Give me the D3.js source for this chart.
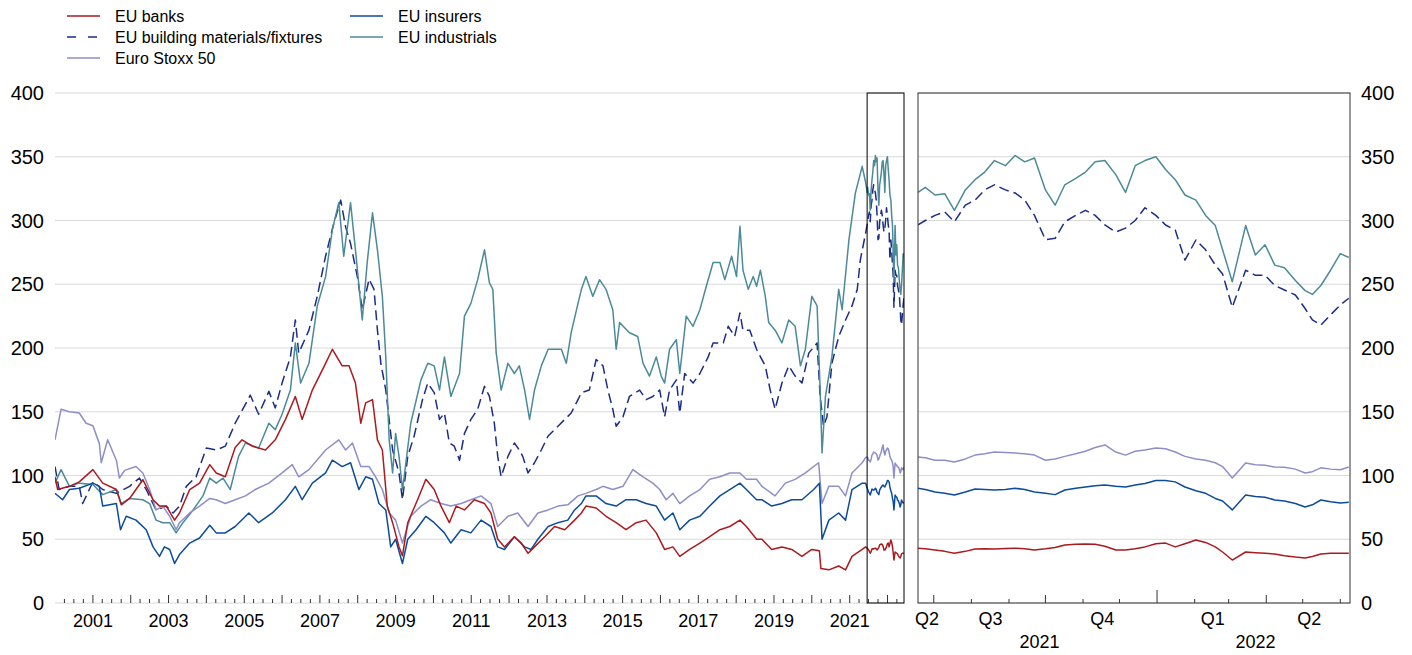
<!DOCTYPE html>
<html>
<head>
<meta charset="utf-8">
<script src="https://cdnjs.cloudflare.com/ajax/libs/d3/7.8.5/d3.min.js"></script>
<style>
  body { margin: 0; background: #fff; }
  text { font-family: "Liberation Sans", Arial, sans-serif; fill: #000; }
</style>
</head>
<body>
<script>
// ---- data: long history (decimal year, index level) ----
var banksHist = [[2000.00,99],[2000.07,89],[2000.38,91.5],[2000.64,95],[2001.00,104.6],[2001.26,94],[2001.62,89],[2001.75,77],[2001.97,82],[2002.32,96.7],[2002.59,81],[2002.76,76],[2002.94,76],[2003.16,65],[2003.29,70.6],[2003.56,89],[2003.82,94],[2004.09,108.5],[2004.26,102],[2004.50,99],[2004.76,122],[2004.94,128],[2005.21,123],[2005.56,120],[2005.82,128],[2006.09,144],[2006.35,162],[2006.53,144],[2006.80,167],[2007.15,188],[2007.33,199],[2007.59,186],[2007.77,186],[2007.94,172.5],[2008.08,141],[2008.21,157],[2008.39,159.5],[2008.52,128],[2008.65,120],[2008.78,76],[2008.92,63],[2009.09,44],[2009.18,37],[2009.32,63],[2009.58,81],[2009.80,97],[2010.02,89],[2010.20,76],[2010.42,63],[2010.60,76],[2010.82,73],[2011.08,81],[2011.35,78],[2011.52,70.6],[2011.70,50],[2011.88,44],[2012.14,52],[2012.32,47],[2012.50,39],[2012.67,44],[2012.94,52],[2013.20,60],[2013.47,57.5],[2013.73,65],[2013.91,70.6],[2014.03,76],[2014.30,74.5],[2014.56,68],[2014.83,63],[2015.09,57.5],[2015.36,63],[2015.62,65],[2015.89,55],[2016.11,42],[2016.33,44],[2016.51,36.6],[2016.77,42],[2017.04,47],[2017.30,52],[2017.57,57.5],[2017.83,60],[2018.10,65],[2018.27,60],[2018.54,50],[2018.68,50],[2018.94,42],[2019.21,44],[2019.47,42],[2019.74,36.6],[2020.00,42],[2020.20,41],[2020.24,27],[2020.45,26],[2020.71,29],[2020.89,26],[2021.06,36.6],[2021.33,42],[2021.42,44]];

var insurersHist = [[2000.00,86],[2000.20,81],[2000.38,89],[2000.64,90],[2001.00,94],[2001.17,91.5],[2001.26,76],[2001.62,78],[2001.73,57.5],[2001.88,68],[2002.14,65],[2002.41,57.5],[2002.59,44],[2002.76,36.6],[2002.89,44],[2003.03,42],[2003.16,31],[2003.29,38],[2003.56,47],[2003.82,51],[2004.09,61],[2004.26,55],[2004.50,55],[2004.76,60],[2005.12,70.6],[2005.38,63],[2005.74,70.6],[2006.09,81],[2006.35,91.5],[2006.53,81],[2006.80,94],[2007.15,102],[2007.33,112],[2007.59,107],[2007.81,110],[2008.03,89],[2008.21,99],[2008.39,97],[2008.56,78],[2008.74,73],[2008.87,44],[2009.00,50],[2009.18,31],[2009.32,50],[2009.54,57.5],[2009.80,68],[2010.02,63],[2010.29,55],[2010.46,47],[2010.73,57.5],[2010.99,55],[2011.26,65],[2011.52,60],[2011.70,44],[2011.88,42],[2012.14,52],[2012.41,44],[2012.58,42],[2012.76,50],[2013.03,60],[2013.29,63],[2013.55,65],[2013.73,73],[2013.91,78],[2014.03,84],[2014.30,84],[2014.56,78],[2014.83,76],[2015.09,81],[2015.36,81],[2015.62,78],[2015.89,76],[2016.11,65],[2016.33,70.6],[2016.51,57.5],[2016.77,65],[2017.04,68],[2017.30,76],[2017.57,84],[2017.83,89],[2018.10,94],[2018.27,89],[2018.54,81],[2018.68,81],[2018.94,76],[2019.21,78],[2019.47,81],[2019.74,81],[2020.05,89],[2020.20,94],[2020.27,50],[2020.45,65],[2020.71,70.6],[2020.89,65],[2021.06,89],[2021.33,94],[2021.42,94]];

var stoxxHist = [[2000.00,128],[2000.16,152],[2000.38,150],[2000.64,149],[2000.82,141],[2001.00,139],[2001.17,125],[2001.22,110],[2001.39,128],[2001.62,112],[2001.70,98],[2001.84,104],[2002.14,107],[2002.32,102],[2002.50,89],[2002.67,73],[2002.85,76],[2003.03,68],[2003.20,57.5],[2003.29,63],[2003.56,70.6],[2003.82,76],[2004.09,82],[2004.26,81],[2004.50,78],[2004.76,81],[2005.03,84],[2005.29,89],[2005.65,94],[2006.00,102],[2006.27,108.5],[2006.44,99],[2006.71,104.6],[2007.15,120],[2007.50,128],[2007.68,120],[2007.86,125.5],[2008.08,107],[2008.30,107],[2008.47,99],[2008.65,89],[2008.83,70.6],[2009.00,65],[2009.18,47],[2009.40,68],[2009.67,76],[2009.93,81],[2010.20,78],[2010.46,76],[2010.73,78],[2010.99,81],[2011.26,84],[2011.52,78],[2011.70,60],[2011.97,68],[2012.23,70.6],[2012.50,60],[2012.76,70.6],[2013.03,73],[2013.29,76],[2013.55,77],[2013.82,84],[2014.03,86],[2014.30,89],[2014.48,91.5],[2014.74,89],[2015.01,91.5],[2015.27,104.6],[2015.54,99],[2015.80,94],[2015.98,89],[2016.15,81],[2016.33,86],[2016.51,78],[2016.77,84],[2017.04,89],[2017.30,97],[2017.57,99],[2017.83,102],[2018.10,102],[2018.27,97],[2018.54,97],[2018.68,91.5],[2019.03,84],[2019.30,94],[2019.56,97],[2019.83,102],[2020.18,110],[2020.27,78],[2020.45,91.5],[2020.71,91.5],[2020.89,84],[2021.06,102],[2021.33,110],[2021.42,114]];

var buildingHist = [[2000.00,107],[2000.11,89],[2000.38,91.5],[2000.64,91.5],[2000.73,78],[2001.00,95],[2001.26,89],[2001.62,86],[2001.97,91.5],[2002.23,98],[2002.41,89],[2002.67,73],[2002.94,76],[2003.12,70.6],[2003.29,76],[2003.47,91.5],[2003.73,99],[2004.00,121.6],[2004.26,120],[2004.50,123],[2004.76,141],[2005.16,163],[2005.38,148],[2005.65,166],[2005.82,153],[2006.00,172.5],[2006.22,193],[2006.35,222],[2006.44,196],[2006.71,214],[2006.93,240.5],[2007.15,272],[2007.37,298],[2007.55,316],[2007.68,295],[2007.81,282],[2007.99,256],[2008.12,230],[2008.30,254],[2008.43,246],[2008.52,214],[2008.61,188],[2008.74,167],[2008.92,120],[2009.09,102],[2009.18,81],[2009.32,115],[2009.49,131],[2009.71,159.5],[2009.85,172.5],[2010.02,165],[2010.16,144],[2010.29,149],[2010.42,125.5],[2010.55,123],[2010.69,112],[2010.82,133],[2010.99,144],[2011.17,152],[2011.35,170],[2011.48,162],[2011.61,141],[2011.70,115],[2011.79,99],[2011.97,115],[2012.14,125.5],[2012.27,120],[2012.36,115],[2012.50,102],[2012.67,110],[2012.85,120],[2013.03,131],[2013.29,138.6],[2013.47,144],[2013.64,149],[2013.82,159.5],[2013.91,165],[2014.12,167],[2014.30,191],[2014.48,186],[2014.61,167],[2014.74,152],[2014.83,138.6],[2015.01,146],[2015.18,162],[2015.45,167],[2015.62,159.5],[2015.80,162],[2015.98,167],[2016.11,146],[2016.24,167],[2016.42,175],[2016.51,149],[2016.64,180],[2016.86,172.5],[2017.04,180],[2017.26,193],[2017.39,204],[2017.66,204],[2017.79,217],[2017.96,209],[2018.10,227.5],[2018.18,214],[2018.36,214],[2018.54,199],[2018.59,196],[2018.77,186],[2018.90,167],[2019.03,152],[2019.21,172.5],[2019.39,186],[2019.56,178],[2019.74,172.5],[2019.92,196],[2020.14,204],[2020.22,162],[2020.31,138.6],[2020.40,146],[2020.53,188],[2020.71,209],[2020.89,222],[2021.06,233],[2021.20,246],[2021.28,269],[2021.42,290]];

var industrialsHist = [[2000.00,94],[2000.16,104.6],[2000.38,91.5],[2000.64,94],[2001.00,93],[2001.26,85],[2001.62,89],[2001.75,78],[2001.97,82],[2002.32,81],[2002.50,78],[2002.67,65],[2002.85,63],[2003.03,63],[2003.20,55],[2003.38,63],[2003.65,73],[2003.91,84],[2004.09,98],[2004.26,94],[2004.44,98],[2004.63,89],[2004.85,115],[2005.03,125.5],[2005.38,121.6],[2005.65,141],[2005.82,136],[2006.00,148],[2006.22,167],[2006.35,204],[2006.49,172.5],[2006.71,188],[2006.93,233],[2007.15,256],[2007.33,293],[2007.50,314],[2007.63,272],[2007.81,314],[2007.94,277],[2008.12,222],[2008.25,267],[2008.39,306],[2008.52,277],[2008.65,240.5],[2008.74,193],[2008.83,128],[2008.92,102],[2009.00,133],[2009.09,115],[2009.18,89],[2009.23,100],[2009.40,141],[2009.67,175],[2009.85,188],[2010.02,186],[2010.16,167],[2010.29,193],[2010.46,162],[2010.69,180],[2010.82,225],[2010.99,235],[2011.17,253.6],[2011.35,277],[2011.48,251],[2011.57,246],[2011.66,196],[2011.79,167],[2011.97,188],[2012.14,180],[2012.27,186],[2012.41,167],[2012.54,144],[2012.67,167],[2012.85,186],[2013.03,199],[2013.20,199],[2013.38,199],[2013.51,188],[2013.64,212],[2013.82,235],[2013.91,246],[2014.03,256],[2014.21,240.5],[2014.39,253.6],[2014.56,246],[2014.74,230],[2014.83,199],[2014.92,220],[2015.18,212],[2015.40,209],[2015.54,188],[2015.71,178],[2015.89,193],[2016.02,178],[2016.11,172.5],[2016.24,199],[2016.42,206.5],[2016.51,180],[2016.68,225],[2016.86,217],[2017.04,230],[2017.21,248.4],[2017.39,267],[2017.57,267],[2017.70,253.6],[2017.88,272],[2018.01,256],[2018.10,295.4],[2018.18,261],[2018.32,246],[2018.45,256],[2018.54,248.4],[2018.64,261],[2018.77,240.5],[2018.86,220],[2019.03,214],[2019.21,204],[2019.39,222],[2019.56,217],[2019.70,186],[2019.83,199],[2020.00,240.5],[2020.14,233],[2020.22,167],[2020.27,117.6],[2020.36,162],[2020.53,193],[2020.71,246],[2020.80,230],[2020.98,285],[2021.15,321.6],[2021.33,342.5],[2021.42,330]];

// ---- data: recent period (zoomed panel) ----
var recentDates = ["2021-06-18","2021-06-24","2021-07-02","2021-07-10","2021-07-18","2021-07-27","2021-08-04","2021-08-12","2021-08-20","2021-08-29","2021-09-06","2021-09-14","2021-09-22","2021-10-01","2021-10-09","2021-10-17","2021-10-26","2021-11-03","2021-11-11","2021-11-19","2021-11-28","2021-12-06","2021-12-14","2021-12-22","2021-12-31","2022-01-08","2022-01-16","2022-01-24","2022-02-02","2022-02-10","2022-02-18","2022-02-24","2022-03-04","2022-03-15","2022-03-23","2022-03-31","2022-04-08","2022-04-16","2022-04-25","2022-05-03","2022-05-09","2022-05-16","2022-05-24","2022-06-01","2022-06-08"];
var banksRecent = [43,42.5,41.6,40.5,39,40.5,42.4,42.5,42.4,42.8,43,42.5,41.6,42.5,43.5,45.5,46,46.3,46,44.5,41.6,41.6,42.5,44,46.5,47,44,46.5,49.4,47.5,44,40,33.7,40,39.5,39,38.4,37,36,35.3,36.5,38.4,39,39,39];
var insurersRecent = [90,89,87,86,84.7,87,89.4,89,88.6,89,90,89,87,86,85,88.6,90,91,92,92.5,91.5,91,92.5,93.8,96,96,95,91,88,86,82,80,73,84.7,83.5,83,80.8,80,78,75.3,77,80.8,79.5,78.4,79];
var stoxxRecent = [114.5,114,112,112,110.6,113,116,117,118.4,118,117.6,117,116,112,113,115,117,119,122,124,118.4,116,119,120,121.6,121,118.4,115,113,112,110,107,98,109.8,108.5,108,106.7,106.5,105,102,103,106,105,104.5,106.7];
var buildingRecent = [296.5,300,304,306.7,299,312,316,324,328,324,321.6,316,304,285,286,299,304,308,304,296.5,291,294,300,310,304,296.5,292.5,269,284.7,277,265,258,232,261,257,257,249,245.5,241.6,231,222,218,226,233.7,239];
var industrialsRecent = [322,326,320,321,308,324,332,338,347,343,351,346,349,324,312,328,333,338,346,347,336,322,343,347,350,340,332,320,316,304,296,277,252,296,273,281,265,263,253,245,242,249,261,274,271];

var seriesNames = ["EU banks", "EU insurers", "EU building materials/fixtures", "EU industrials", "Euro Stoxx 50"];
var seriesColors = ["#ab1a1f", "#0c4c9b", "#1b2d86", "#4b8a98", "#8e8ec8"];
var yTicks = [0, 50, 100, 150, 200, 250, 300, 350, 400];

var width = 1412, height = 655;
var svg = d3.select('body').append('svg')
  .attr('width', width).attr('height', height);

svg.append('rect').attr('width', width).attr('height', height).attr('fill', '#fff');

function yearToDate(v) {
  var yr = Math.floor(v);
  var a = new Date(yr, 0, 1), b = new Date(yr + 1, 0, 1);
  return new Date(+a + (v - yr) * (b - a));
}
var parse = d3.timeParse('%Y-%m-%d');
var recentD = recentDates.map(parse);

var hist = [banksHist, insurersHist, buildingHist, industrialsHist, stoxxHist];
var recent = [banksRecent, insurersRecent, buildingRecent, industrialsRecent, stoxxRecent];

var series = seriesNames.map(function(name, i) {
  var r = recent[i].map(function(v, j) { return {date: recentD[j], value: v}; });
  var h = hist[i].map(function(p) { return {date: yearToDate(p[0]), value: p[1]}; });
  return {name: name, color: seriesColors[i], dashed: i === 2, all: h.concat(r), recent: r};
});

// scales
var plotTop = 93, plotBottom = 603;
var leftX0 = 55, leftX1 = 904, rightX0 = 918, rightX1 = 1350;
var y = d3.scaleLinear().domain([0, 400]).range([plotBottom, plotTop]);
var xL = d3.scaleTime().domain([new Date(2000, 0, 1), new Date(2022, 5, 9)]).range([leftX0, leftX1]);
var xR = d3.scaleTime().domain([new Date(2021, 5, 18), new Date(2022, 5, 9)]).range([rightX0, rightX1]);

// gridlines
var grid = svg.append('g');
yTicks.forEach(function(t) {
  grid.append('line').attr('x1', leftX0).attr('x2', leftX1).attr('y1', y(t)).attr('y2', y(t))
    .attr('stroke', '#d9d9d9').attr('stroke-width', 1);
  grid.append('line').attr('x1', rightX0).attr('x2', rightX1).attr('y1', y(t)).attr('y2', y(t))
    .attr('stroke', '#d9d9d9').attr('stroke-width', 1);
});

// y labels
yTicks.forEach(function(t) {
  svg.append('text').attr('x', 44).attr('y', y(t)).attr('dy', '0.36em')
    .attr('text-anchor', 'end').style('font-size', '20px').text(t);
  svg.append('text').attr('x', 1361).attr('y', y(t)).attr('dy', '0.36em')
    .attr('text-anchor', 'start').style('font-size', '20px').text(t);
});

// clips
var defs = svg.append('defs');
defs.append('clipPath').attr('id', 'clipL').append('rect')
  .attr('x', leftX0).attr('y', plotTop - 5).attr('width', leftX1 - leftX0).attr('height', plotBottom - plotTop + 5);
defs.append('clipPath').attr('id', 'clipR').append('rect')
  .attr('x', rightX0).attr('y', plotTop - 5).attr('width', rightX1 - rightX0).attr('height', plotBottom - plotTop + 5);

var order = [2, 3, 4, 1, 0];
var lineL = d3.line().x(function(d) { return xL(d.date); }).y(function(d) { return y(d.value); });
var lineR = d3.line().x(function(d) { return xR(d.date); }).y(function(d) { return y(d.value); });

var gL = svg.append('g').attr('clip-path', 'url(#clipL)');
var gR = svg.append('g').attr('clip-path', 'url(#clipR)');
order.forEach(function(i) {
  var s = series[i];
  gL.append('path').datum(s.all).attr('d', lineL)
    .attr('fill', 'none').attr('stroke', s.color).attr('stroke-width', 1.5)
    .attr('stroke-linejoin', 'round')
    .attr('stroke-dasharray', s.dashed ? '10,5' : null);
  gR.append('path').datum(s.recent).attr('d', lineR)
    .attr('fill', 'none').attr('stroke', s.color).attr('stroke-width', 1.5)
    .attr('stroke-linejoin', 'round')
    .attr('stroke-dasharray', s.dashed ? '10,5' : null);
});

// left x ticks (quarters, taller at year start)
var qTicks = d3.timeMonth.every(3).range(new Date(2000, 3, 1), new Date(2022, 5, 9));
qTicks.forEach(function(d) {
  var len = d.getMonth() === 0 ? 8 : 4;
  svg.append('line').attr('x1', xL(d)).attr('x2', xL(d))
    .attr('y1', plotBottom).attr('y2', plotBottom - len)
    .attr('stroke', '#333').attr('stroke-width', 1);
});
d3.range(2001, 2022, 2).forEach(function(yr) {
  svg.append('text').attr('x', xL(new Date(yr, 0, 1))).attr('y', 627)
    .attr('text-anchor', 'middle').style('font-size', '18px').text(yr);
});

// zoom box in left panel
svg.append('rect')
  .attr('x', xL(xR.domain()[0])).attr('y', plotTop)
  .attr('width', xL(xR.domain()[1]) - xL(xR.domain()[0])).attr('height', plotBottom - plotTop)
  .attr('fill', 'none').attr('stroke', '#000').attr('stroke-width', 1);

// right panel frame
svg.append('rect').attr('x', rightX0).attr('y', plotTop).attr('width', rightX1 - rightX0).attr('height', plotBottom - plotTop)
  .attr('fill', 'none').attr('stroke', '#333').attr('stroke-width', 1);

// right x ticks (months)
var mTicks = d3.timeMonth.range(new Date(2021, 6, 1), new Date(2022, 5, 9));
mTicks.forEach(function(d) {
  var m = d.getMonth();
  var len = m === 0 ? 13 : (m % 3 === 0 ? 8 : 4);
  svg.append('line').attr('x1', xR(d)).attr('x2', xR(d))
    .attr('y1', plotBottom).attr('y2', plotBottom - len)
    .attr('stroke', '#333').attr('stroke-width', 1);
});

// quarter and year labels
var d0 = xR.domain()[0], d1 = xR.domain()[1];
var quarters = d3.timeMonth.every(3).range(new Date(2021, 3, 1), d1);
quarters.forEach(function(q) {
  var qEnd = d3.timeMonth.offset(q, 3);
  var a = xR(q < d0 ? d0 : q), b = xR(qEnd > d1 ? d1 : qEnd);
  svg.append('text').attr('x', (a + b) / 2 + 1).attr('y', 625)
    .attr('text-anchor', 'middle').style('font-size', '18px')
    .text('Q' + (Math.floor(q.getMonth() / 3) + 1));
});
[2021, 2022].forEach(function(yr) {
  var s = new Date(yr, 0, 1), e = new Date(yr + 1, 0, 1);
  var a = xR(s < d0 ? d0 : s), b = xR(e > d1 ? d1 : e);
  svg.append('text').attr('x', (a + b) / 2 + 2).attr('y', 648)
    .attr('text-anchor', 'middle').style('font-size', '18px').text(yr);
});

// legend
var legendItems = [
  {i: 0, x: 67, y: 16}, {i: 2, x: 67, y: 37}, {i: 4, x: 67, y: 58},
  {i: 1, x: 350, y: 16}, {i: 3, x: 350, y: 37}
];
legendItems.forEach(function(it) {
  var s = series[it.i];
  svg.append('line').attr('x1', it.x).attr('x2', it.x + 33).attr('y1', it.y).attr('y2', it.y)
    .attr('stroke', s.color).attr('stroke-width', 1.5)
    .attr('stroke-dasharray', s.dashed ? '9,12' : null);
  svg.append('text').attr('x', it.x + 48).attr('y', it.y).attr('dy', '0.36em')
    .style('font-size', '16px').text(s.name);
});
</script>
</body>
</html>
